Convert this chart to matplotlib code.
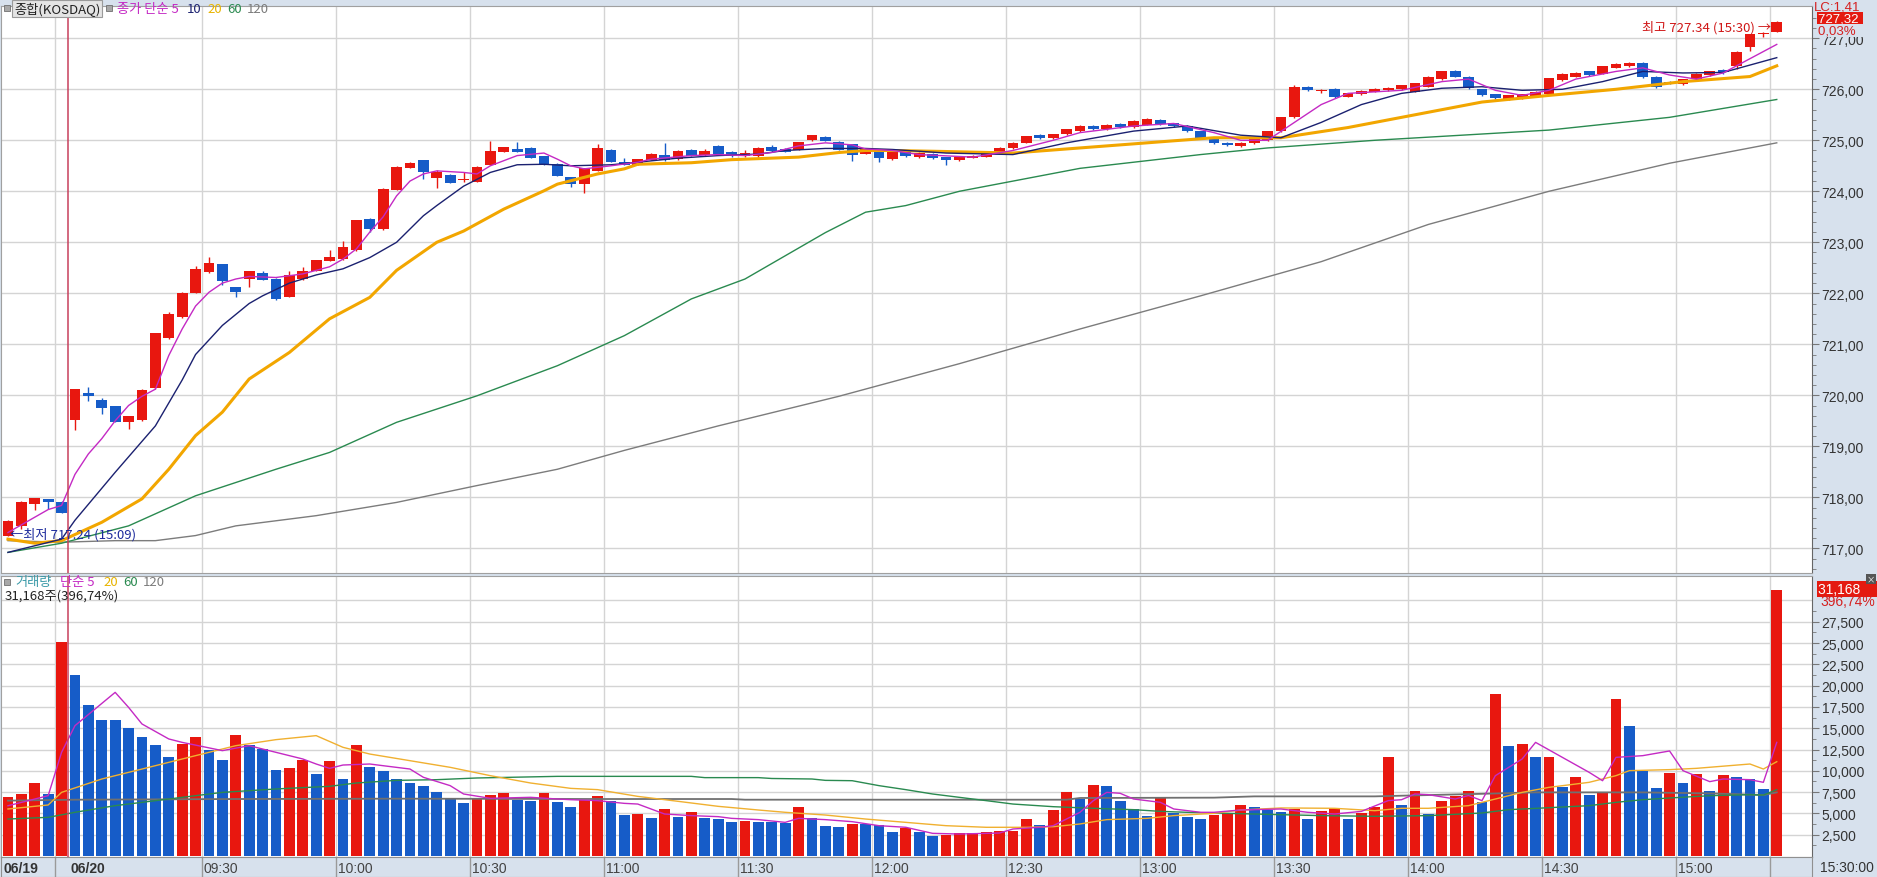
import numpy as np
import matplotlib.pyplot as plt
from matplotlib.patches import Rectangle

plt.rcParams['font.family'] = ['Noto Sans CJK KR', 'DejaVu Sans']
NUM_FONT = ['Liberation Sans Narrow', 'Liberation Sans', 'DejaVu Sans']
KR_FONT = ['Noto Sans CJK KR', 'DejaVu Sans']

# 3분봉: 06/19 5개 + 06/20 128개
opens = [717.25, 717.44, 717.87, 717.96, 717.90, 719.52, 720.05, 719.91, 719.79, 719.48,
         719.52, 720.14, 721.12, 721.54, 722.01, 722.42, 722.57, 722.12, 722.29, 722.40,
         722.29, 721.93, 722.28, 722.44, 722.64, 722.68, 722.84, 723.46, 723.26, 724.03,
         724.46, 724.61, 724.26, 724.32, 724.22, 724.19, 724.52, 724.78, 724.83, 724.85,
         724.69, 724.54, 724.28, 724.14, 724.40, 724.81, 724.58, 724.52, 724.62, 724.71,
         724.63, 724.81, 724.71, 724.89, 724.78, 724.69, 724.69, 724.87, 724.83, 724.81,
         725.00, 725.06, 724.97, 724.92, 724.74, 724.81, 724.63, 724.78, 724.68, 724.74,
         724.67, 724.62, 724.66, 724.68, 724.74, 724.84, 724.95, 725.10, 725.04, 725.12,
         725.18, 725.28, 725.22, 725.32, 725.26, 725.30, 725.40, 725.33, 725.28, 725.18,
         725.05, 724.95, 724.88, 724.94, 725.00, 725.18, 725.45, 726.05, 725.96, 726.00,
         725.85, 725.90, 725.95, 725.98, 726.00, 725.95, 726.05, 726.20, 726.35, 726.25,
         726.00, 725.90, 725.80, 725.82, 725.85, 725.90, 726.18, 726.25, 726.35, 726.30,
         726.42, 726.45, 726.52, 726.25, 726.15, 726.10, 726.20, 726.28, 726.38, 726.45,
         726.83, 727.08, 727.12]
highs = [717.55, 717.92, 717.99, 717.97, 717.92, 720.13, 720.16, 719.94, 719.80, 719.60,
         720.12, 721.23, 721.63, 722.03, 722.53, 722.71, 722.58, 722.12, 722.44, 722.43,
         722.30, 722.43, 722.51, 722.66, 722.85, 723.03, 723.44, 723.47, 724.06, 724.49,
         724.57, 724.62, 724.42, 724.33, 724.38, 724.49, 724.99, 724.87, 724.97, 724.86,
         724.70, 724.55, 724.29, 724.45, 724.93, 724.82, 724.66, 724.64, 724.75, 724.95,
         724.80, 724.82, 724.82, 724.90, 724.79, 724.80, 724.86, 724.90, 724.85, 724.97,
         725.11, 725.08, 724.98, 724.93, 724.83, 724.82, 724.80, 724.80, 724.77, 724.75,
         724.68, 724.70, 724.72, 724.77, 724.86, 724.96, 725.09, 725.12, 725.13, 725.23,
         725.29, 725.30, 725.31, 725.33, 725.39, 725.44, 725.41, 725.34, 725.29, 725.19,
         725.06, 724.96, 724.96, 725.03, 725.19, 725.46, 726.08, 726.07, 726.00, 726.02,
         725.93, 725.98, 726.02, 726.04, 726.09, 726.13, 726.26, 726.36, 726.37, 726.26,
         726.01, 725.91, 725.89, 725.91, 725.96, 726.23, 726.31, 726.33, 726.36, 726.46,
         726.51, 726.53, 726.53, 726.26, 726.16, 726.21, 726.31, 726.36, 726.40, 726.75,
         727.08, 727.12, 727.34]
lows = [717.24, 717.38, 717.76, 717.77, 717.69, 719.31, 719.89, 719.63, 719.47, 719.34,
        719.50, 720.12, 721.10, 721.52, 722.00, 722.39, 722.16, 721.93, 722.13, 722.26,
        721.86, 721.92, 722.27, 722.43, 722.63, 722.66, 722.83, 723.20, 723.25, 724.02,
        724.45, 724.24, 724.06, 724.16, 724.18, 724.18, 724.51, 724.77, 724.77, 724.66,
        724.52, 724.30, 724.09, 723.97, 724.39, 724.58, 724.52, 724.51, 724.61, 724.60,
        724.62, 724.69, 724.70, 724.72, 724.68, 724.68, 724.68, 724.78, 724.77, 724.80,
        724.99, 724.98, 724.80, 724.60, 724.73, 724.57, 724.62, 724.68, 724.66, 724.64,
        724.52, 724.60, 724.65, 724.67, 724.73, 724.83, 724.94, 725.03, 725.03, 725.11,
        725.17, 725.20, 725.21, 725.25, 725.25, 725.29, 725.30, 725.27, 725.16, 725.03,
        724.93, 724.88, 724.87, 724.93, 724.99, 725.17, 725.44, 725.96, 725.93, 725.83,
        725.84, 725.89, 725.94, 725.97, 725.99, 725.94, 726.04, 726.19, 726.24, 726.00,
        725.86, 725.80, 725.79, 725.81, 725.84, 725.89, 726.17, 726.24, 726.27, 726.29,
        726.41, 726.44, 726.23, 726.03, 726.10, 726.09, 726.19, 726.27, 726.30, 726.40,
        726.75, 727.02, 727.12]
closes = [717.53, 717.90, 717.98, 717.90, 717.69, 720.12, 719.98, 719.75, 719.48, 719.59,
          720.10, 721.22, 721.59, 722.01, 722.48, 722.59, 722.24, 722.03, 722.43, 722.27,
          721.89, 722.36, 722.43, 722.65, 722.71, 722.91, 723.44, 723.26, 724.05, 724.47,
          724.56, 724.37, 724.37, 724.16, 724.24, 724.48, 724.79, 724.86, 724.78, 724.66,
          724.52, 724.30, 724.14, 724.45, 724.85, 724.58, 724.52, 724.63, 724.74, 724.61,
          724.79, 724.70, 724.79, 724.73, 724.69, 724.76, 724.85, 724.79, 724.78, 724.96,
          725.10, 724.99, 724.80, 724.72, 724.82, 724.65, 724.79, 724.70, 724.75, 724.66,
          724.62, 724.68, 724.70, 724.75, 724.85, 724.95, 725.08, 725.05, 725.12, 725.22,
          725.28, 725.22, 725.30, 725.26, 725.38, 725.42, 725.32, 725.28, 725.18, 725.05,
          724.95, 724.90, 724.95, 725.02, 725.18, 725.45, 726.05, 725.98, 725.97, 725.85,
          725.92, 725.97, 726.00, 726.03, 726.08, 726.12, 726.25, 726.35, 726.25, 726.02,
          725.88, 725.82, 725.88, 725.90, 725.95, 726.22, 726.30, 726.32, 726.28, 726.45,
          726.50, 726.52, 726.25, 726.05, 726.12, 726.20, 726.30, 726.35, 726.33, 726.73,
          727.08, 727.08, 727.32]

volumes = [6930, 7240, 8570, 7240, 25160, 21250, 17730, 15970, 15970, 15030,
           13970, 13030, 11620, 13190, 13970, 12440, 11270, 14200, 13030, 12600,
           10100, 10330, 11310, 9670, 11150, 9040, 13030, 10450, 9980, 9040,
           8570, 8220, 7510, 6730, 6220, 6730, 7160, 7400, 6570, 6460,
           7400, 6340, 5750, 6570, 7040, 6420, 4810, 4930, 4460, 5520,
           4580, 5170, 4460, 4340, 3990, 4110, 3990, 3980, 3910, 5750,
           4460, 3520, 3400, 3760, 3750, 3640, 2820, 3290, 2810, 2350,
           2470, 2660, 2660, 2820, 2940, 2940, 4340, 3640, 5400, 7510,
           6690, 8340, 8220, 6460, 5520, 4700, 6850, 5050, 4580, 4340,
           4810, 5050, 5990, 5750, 5400, 5170, 5520, 4340, 5280, 5600,
           4340, 5050, 5750, 11620, 5990, 7630, 4930, 6460, 7040, 7630,
           6340, 19020, 12910, 13150, 11620, 11630, 8140, 9270, 7160, 7470,
           18430, 15260, 9980, 7980, 9740, 8570, 9630, 7630, 9510, 9270,
           9040, 7870, 31168]
# 거래량 막대 색 (r: 증가, b: 감소)
volume_colors = ("rrrbrbbbbb" "bbbrrbbrbb" "brrbrbrbbb" "bbbbbrrrbb" "rbbrrbbrbr"
                 "brbbbrbbbr" "bbbrbbbrbb" "rrrrrrrbrr" "brbbbbrbbb" "rrrbbbrbrr"
                 "brrrbrbrrr" "brbrbrbrbr" "rbbbrbrbrb" "bbr")

# 가격 이동평균 (봉 번호, 값)
ma5 = [(0, 717.31), (3, 717.76), (4, 717.84), (5, 718.45), (6, 718.85), (7, 719.15), (8, 719.50),
       (9, 719.80), (10, 719.98), (11, 720.12), (12, 720.78), (13, 721.30), (14, 721.75), (15, 722.02),
       (16, 722.20), (17, 722.28), (18, 722.33), (20, 722.31), (22, 722.38), (24, 722.52), (25, 722.67),
       (26, 722.87), (27, 723.20), (28, 723.50), (29, 723.91), (30, 724.20), (31, 724.34), (32, 724.40),
       (34, 724.37), (35, 724.34), (36, 724.50), (38, 724.70), (40, 724.75), (41, 724.63), (42, 724.50),
       (43, 724.44), (45, 724.50), (47, 724.57), (48, 724.63), (51, 724.70), (53, 724.72), (55, 724.70),
       (57, 724.76), (59, 724.89), (61, 724.95), (63, 724.91), (64, 724.83), (66, 724.80), (68, 724.72),
       (72, 724.67), (75, 724.80), (78, 725.00), (80, 725.15), (84, 725.28), (87, 725.33), (90, 725.15),
       (92, 725.00), (94, 725.00), (96, 725.35), (98, 725.70), (100, 725.92), (104, 725.98), (107, 726.15),
       (109, 726.20), (111, 725.98), (113, 725.88), (115, 725.98), (117, 726.20), (120, 726.35),
       (122, 726.42), (124, 726.28), (126, 726.20), (128, 726.32), (130, 726.60), (132, 726.88)]
ma10 = [(0, 716.92), (4, 717.18), (5, 717.55), (8, 718.49), (11, 719.40), (13, 720.30), (14, 720.80),
        (16, 721.37), (18, 721.80), (19, 721.95), (21, 722.20), (23, 722.36), (25, 722.48), (27, 722.70),
        (29, 723.00), (31, 723.52), (32, 723.72), (34, 724.10), (36, 724.37), (38, 724.52), (40, 724.53),
        (42, 724.50), (45, 724.52), (47, 724.57), (50, 724.65), (53, 724.70), (56, 724.73), (58, 724.80),
        (61, 724.84), (64, 724.84), (66, 724.82), (70, 724.75), (75, 724.72), (79, 724.95), (84, 725.18),
        (88, 725.28), (92, 725.10), (95, 725.05), (98, 725.35), (101, 725.70), (104, 725.92), (107, 726.02),
        (110, 726.05), (113, 725.98), (116, 726.00), (119, 726.15), (122, 726.35), (125, 726.32),
        (128, 726.33), (132, 726.62)]
ma20 = [(0, 717.18), (2, 717.10), (4, 717.15), (7, 717.51), (10, 717.97), (12, 718.55), (14, 719.21),
        (16, 719.67), (18, 720.32), (21, 720.84), (24, 721.50), (27, 721.92), (29, 722.45), (32, 723.00),
        (34, 723.22), (37, 723.65), (40, 724.01), (41, 724.14), (44, 724.34), (46, 724.44), (47, 724.53),
        (51, 724.56), (54, 724.62), (57, 724.65), (59, 724.67), (62, 724.76), (64, 724.80), (66, 724.80),
        (70, 724.78), (75, 724.75), (80, 724.85), (85, 724.95), (90, 725.05), (95, 725.05), (100, 725.25),
        (105, 725.50), (110, 725.75), (115, 725.88), (120, 726.00), (125, 726.15), (130, 726.25), (132, 726.46)]
ma60 = [(0, 716.92), (4, 717.10), (9, 717.44), (14, 718.03), (20, 718.55), (24, 718.88), (29, 719.47),
        (35, 719.99), (41, 720.58), (46, 721.17), (51, 721.89), (55, 722.28), (61, 723.19), (64, 723.59),
        (67, 723.72), (71, 724.00), (80, 724.45), (89, 724.72), (94, 724.85), (102, 725.00), (115, 725.20),
        (124, 725.45), (132, 725.80)]
ma120 = [(0, 717.15), (4, 717.12), (8, 717.15), (11, 717.15), (14, 717.25), (17, 717.44), (23, 717.64),
         (29, 717.90), (35, 718.23), (41, 718.55), (46, 718.92), (53, 719.40), (62, 719.98), (71, 720.62),
         (80, 721.30), (89, 721.95), (98, 722.62), (106, 723.35), (115, 724.00), (124, 724.55), (132, 724.95)]

# 거래량 이동평균
vma5 = [(0, 5900), (3, 7080), (4, 12170), (5, 15300), (8, 19210), (9, 17450), (10, 15500), (12, 13740),
        (13, 13340), (16, 12370), (18, 12950), (20, 12170), (22, 11390), (23, 10800), (24, 10290),
        (25, 10680), (27, 10800), (28, 10600), (30, 10210), (31, 9240), (33, 8260), (34, 7280), (36, 6770),
        (38, 6850), (39, 6890), (41, 6690), (42, 6610), (44, 6500), (46, 6180), (47, 6100), (49, 4930),
        (51, 4740), (53, 4620), (54, 4420), (56, 4270), (58, 3950), (59, 4420), (61, 4270), (63, 4030),
        (65, 3560), (67, 3370), (69, 2660), (71, 2580), (74, 2700), (75, 3170), (77, 3370), (78, 3560),
        (80, 5130), (81, 6500), (82, 7470), (83, 7360), (84, 6690), (86, 6300), (87, 5520), (89, 5130),
        (90, 5130), (92, 5400), (95, 5520), (97, 5130), (99, 4930), (101, 5240), (103, 6500), (104, 6610),
        (105, 7280), (106, 7200), (108, 6690), (109, 7100), (110, 6500), (111, 9430), (113, 11390),
        (114, 13340), (116, 11580), (118, 9820), (119, 8840), (120, 11580), (122, 11780), (124, 12330),
        (125, 10020), (127, 8730), (128, 9040), (130, 8960), (131, 8650), (132, 13340)]
vma20 = [(0, 5520), (3, 5990), (4, 7470), (7, 9040), (10, 10210), (14, 11780), (17, 12950), (20, 13660),
         (23, 14130), (25, 12760), (27, 11970), (30, 11190), (33, 10410), (36, 9430), (39, 8570),
         (42, 7940), (44, 7790), (47, 7000), (50, 6420), (53, 5830), (56, 5400), (58, 5130), (61, 4810),
         (64, 4340), (67, 3950), (70, 3560), (73, 3370), (76, 3370), (78, 3440), (80, 3760), (82, 4270),
         (85, 4420), (87, 4740), (90, 5010), (92, 5400), (95, 5640), (99, 5600), (102, 5320), (104, 5600),
         (106, 5600), (109, 5910), (111, 6690), (113, 7470), (115, 8060), (117, 8450), (118, 8650),
         (120, 9430), (121, 10020), (124, 10140), (126, 10290), (130, 10800), (131, 10210), (132, 11070)]
vma60 = [(0, 4340), (3, 4540), (5, 5130), (8, 5910), (12, 6690), (16, 7470), (20, 7870), (24, 8180),
         (26, 8570), (29, 8880), (32, 8960), (35, 9160), (41, 9350), (44, 9350), (51, 9350), (52, 9200),
         (56, 9200), (57, 9100), (60, 9040), (61, 8880), (63, 8840), (65, 8260), (67, 7790), (69, 7280),
         (72, 6690), (73, 6500), (75, 6100), (78, 5790), (81, 5600), (84, 5440), (86, 5240), (88, 5130),
         (90, 5050), (93, 4930), (98, 4740), (102, 4660), (106, 4740), (110, 5050), (112, 5440),
         (115, 5670), (118, 5910), (120, 6300), (122, 6610), (124, 6810), (127, 7080), (130, 7200),
         (131, 7150), (132, 7790)]
vma120 = [(0, 6500), (5, 6610), (17, 6690), (29, 6730), (44, 6690), (54, 6690), (55, 6610), (79, 6610),
          (80, 6810), (90, 6850), (93, 7000), (102, 7000), (104, 7080), (110, 7300), (114, 7470),
          (122, 7470), (127, 7350), (131, 7160), (132, 7470)]

time_ticks = [14.5, 24.5, 34.5, 44.5, 54.5, 64.5, 74.5, 84.5, 94.5, 104.5, 114.5, 124.5]
time_labels = ['09:30', '10:00', '10:30', '11:00', '11:30', '12:00',
               '12:30', '13:00', '13:30', '14:00', '14:30', '15:00']

RED = '#e8170f'
BLUE = '#165cc8'
BG = '#d7e1ed'
GRID = '#d4d4d4'
W, H = 1877, 878

fig = plt.figure(figsize=(W / 100, H / 100), dpi=100, facecolor=BG)


def box(top, bottom, left=1, right=1812):
    return [left / W, 1 - bottom / H, (right - left) / W, (bottom - top) / H]


ax = fig.add_axes(box(7, 574))
axv = fig.add_axes(box(577, 858))
axx = fig.add_axes(box(858, 878))

x = np.arange(len(closes))
xlim = (-0.52, 134.63)

# ---- 가격 차트 ----
o = np.array(opens)
c = np.array(closes)
cols = [RED if cc >= oo else BLUE for oo, cc in zip(o, c)]
ax.vlines(x, lows, highs, colors=cols, lw=1.0, zorder=3)
ax.bar(x, np.maximum(np.abs(c - o), 0.02), 0.8, np.minimum(o, c), color=cols, lw=0, zorder=4)

for data, col, lw in [(ma120, '#7c7c7c', 1.0), (ma60, '#2a8a50', 1.0), (ma20, '#f2a600', 2.2),
                      (ma10, '#1b2170', 1.0), (ma5, '#c42ac4', 1.0)]:
    mx, my = zip(*data)
    ax.plot(mx, my, color=col, lw=lw, zorder=5)

ax.set_xlim(xlim)
ax.set_ylim(716.516, 727.633)
ax.set_yticks(np.arange(717, 728))
ax.set_yticks(np.arange(716.6, 727.6, 0.2), minor=True)
ax.set_yticklabels([f'{v:.2f}'.replace('.', ',') for v in np.arange(717, 728)])

# ---- 거래량 차트 ----
vcols = [RED if f == 'r' else BLUE for f in volume_colors]
axv.bar(x, volumes, 0.8, color=vcols, lw=0, zorder=3)
for data, col, lw in [(vma120, '#707070', 1.3), (vma60, '#2a8a50', 1.0), (vma20, '#f0b030', 1.0),
                      (vma5, '#c42ac4', 1.0)]:
    mx, my = zip(*data)
    axv.plot(mx, my, color=col, lw=lw, zorder=5)
axv.set_xlim(xlim)
axv.set_ylim(-117, 32870)
axv.set_yticks(np.arange(2500, 27501, 2500))
axv.set_yticks(np.arange(1250, 30001, 2500), minor=True)
axv.set_yticklabels([f'{v:,}' for v in range(2500, 27501, 2500)])

for a in (ax, axv):
    a.set_facecolor('white')
    a.yaxis.tick_right()
    a.set_xticks([])
    a.tick_params(axis='y', which='major', length=5, color='#777777', labelcolor='#333333',
                  labelsize=10, pad=2)
    a.tick_params(axis='y', which='minor', length=3, color='#777777')
    for lab in a.get_yticklabels():
        lab.set_family(NUM_FONT)
    for s in a.spines.values():
        s.set_color('#a0a0a0')
    a.spines['right'].set_color('#666666')
    for t in [3.5] + time_ticks + [131.5]:
        a.axvline(t, color=GRID, lw=1, zorder=1)
    a.axvline(4.5, color='#c8405c', lw=1.1, zorder=6)

for v in range(717, 728):
    ax.axhline(v, color=GRID, lw=1, zorder=1)
for v in range(2500, 30001, 2500):
    axv.axhline(v, color=GRID, lw=1, zorder=1)

# ---- 시간축 ----
axx.set_facecolor(BG)
axx.set_xlim(xlim)
axx.set_ylim(0, 1)
axx.set_xticks([])
axx.set_yticks([])
for s in axx.spines.values():
    s.set_color('#909090')
for t in [3.5] + time_ticks + [131.5]:
    axx.axvline(t, color='#9a9a9a', lw=1)
axx.text(-0.35, 0.45, '06/19', fontsize=10, family=NUM_FONT, weight='bold', color='#333333', va='center')
axx.text(4.7, 0.45, '06/20', fontsize=10, family=NUM_FONT, weight='bold', color='#333333', va='center')
for t, lab in zip(time_ticks, time_labels):
    axx.text(t + 0.1, 0.45, lab, fontsize=10, family=NUM_FONT, color='#444444', va='center')
fig.text(1820 / W, 1 - 868 / H, '15:30:00', fontsize=10, family=NUM_FONT, color='#333333', va='center')

# ---- 주석 ----
ax.text(131.6, 727.22, '최고 727.34 (15:30) →', color='#d01818', fontsize=9.5, ha='right', va='center',
        family=KR_FONT, zorder=7)
ax.text(0.15, 717.28, '←최저 717.24 (15:09)', color='#1c2a9c', fontsize=9.5, ha='left', va='center',
        family=KR_FONT, zorder=7)

# 범례 (가격)
fig.patches.append(Rectangle((4 / W, 1 - 12 / H), 6 / W, 6 / H, transform=fig.transFigure,
                             facecolor='#a8a8a8', edgecolor='#707070', lw=0.6))
fig.text(14 / W, 1 - 9.5 / H, '종합(KOSDAQ)', fontsize=9.5, color='#222222', va='center',
         bbox=dict(boxstyle='square,pad=0.12', facecolor='#e4e4e4', edgecolor='#9a9a9a', lw=0.8))
fig.patches.append(Rectangle((106 / W, 1 - 12 / H), 6 / W, 6 / H, transform=fig.transFigure,
                             facecolor='#a8a8a8', edgecolor='#707070', lw=0.6))
for px, txt, col in [(117, '종가 단순 5', '#c42ac4'), (187, '10', '#1b2170'), (207, '20', '#e8b400'),
                     (227, '60', '#2a8a50'), (247, '120', '#7c7c7c')]:
    fig.text(px / W, 1 - 9.5 / H, txt, fontsize=9.5, color=col, va='center')

# 범례 (거래량)
fig.patches.append(Rectangle((4 / W, 1 - 586 / H), 6 / W, 6 / H, transform=fig.transFigure,
                             facecolor='#a8a8a8', edgecolor='#707070', lw=0.6))
for px, txt, col in [(15, '거래량', '#3a9aa8'), (60, '단순 5', '#c42ac4'), (103, '20', '#e8b400'),
                     (123, '60', '#2a8a50'), (143, '120', '#7c7c7c')]:
    fig.text(px / W, 1 - 583 / H, txt, fontsize=9.5, color=col, va='center')
fig.text(5 / W, 1 - 596 / H, '31,168주(396,74%)', fontsize=9.5, color='#222222', va='center')

# 오른쪽 축 표시
fig.text(1814 / W, 1 - 7 / H, 'LC:1,41', fontsize=9.5, family=NUM_FONT, color='#d42020', va='center')
fig.text(1818 / W, 1 - 20 / H, '727,32 ', fontsize=9.5, family=NUM_FONT, color='white', va='center',
         bbox=dict(boxstyle='square,pad=0.05', facecolor='#e41a10', edgecolor='none'))
fig.text(1818 / W, 1 - 31.5 / H, '0,03%  ', fontsize=9.5, family=NUM_FONT, color='#d42020', va='center',
         bbox=dict(boxstyle='square,pad=0.05', facecolor=BG, edgecolor='none'))
fig.text(1818 / W, 1 - 590 / H, '31,168     ', fontsize=10, family=NUM_FONT, color='white', va='center',
         bbox=dict(boxstyle='square,pad=0.05', facecolor='#e41a10', edgecolor='none'))
fig.text(1820 / W, 1 - 602 / H, '396,74%', fontsize=10, family=NUM_FONT, color='#d42020', va='center')
fig.text(1871 / W, 1 - 580 / H, '×', fontsize=6, color='white', ha='center', va='center',
         bbox=dict(boxstyle='square,pad=0.1', facecolor='#555555', edgecolor='none'))

fig.savefig('out.png', dpi=100, facecolor=BG)
